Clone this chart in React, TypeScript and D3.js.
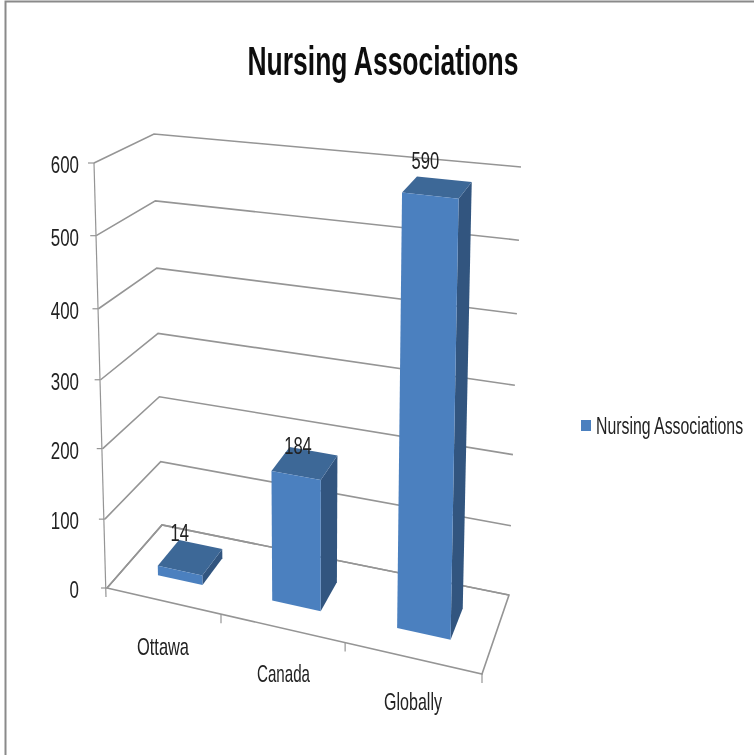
import React from "react";
import * as d3 from "d3";

const categories = ["Ottawa", "Canada", "Globally"];
const seriesName = "Nursing Associations";
const values = [14, 184, 590];
const valueTicks = [0, 100, 200, 300, 400, 500, 600];
const categoryLabelPos = [
  [163, 655],
  [283.5, 682],
  [413, 710],
];
const categoryLabelWidths = [52, 53, 58];
const barLabelShift = [
  [-21, -3],
  [-15.5, 3],
  [-19, -10],
];

const W = 754;
const H = 755;
type P = [number, number];
const floorFL: P = [107, 588];
const floorFR: P = [482, 674];
const floorBR: P = [509, 595];
const floorBL: P = [162, 525];
const topFL: P = [94, 163];
const topFR: P = [492, 209];
const topBR: P = [521, 167];
const topBL: P = [154, 134];

const mix = (a: P, b: P, t: number): P => [a[0] + (b[0] - a[0]) * t, a[1] + (b[1] - a[1]) * t];
const catT = d3.scaleLinear().domain([0, 1, 2, 3]).range([0, 0.304, 0.635, 1]);
const valT = d3.scaleLinear().domain(valueTicks).range([0, 0.162, 0.328, 0.49, 0.657, 0.829, 1]);
const band = d3.scaleBand<string>().domain(categories).range([0, 3]).paddingInner(0.6).paddingOuter(0.3);
const depthFront = 0.32;
const depthBack = 0.725;

function project(c: number, depth: number, value: number): P {
  const t = catT(c);
  const f = mix(mix(floorFL, floorFR, t), mix(floorBL, floorBR, t), depth);
  const u = mix(mix(topFL, topFR, t), mix(topBL, topBR, t), depth);
  return mix(f, u, valT(value));
}
const poly = (pts: P[]) => d3.line()(pts) + "Z";
const FONT = "'Liberation Sans', Arial, sans-serif";
const ctx = document.createElement("canvas").getContext("2d")!;

function T({ x, y, len, size, anchor = "middle", bold = false, children }: any) {
  ctx.font = `${bold ? "bold " : ""}${size}px 'Liberation Sans'`;
  const natural = ctx.measureText(String(children)).width;
  const sx = len / natural;
  return (
    <text transform={`translate(${x},${y}) scale(${sx},1)`} fontFamily={FONT} fontSize={size} fontWeight={bold ? 700 : 400}
      fill={bold ? "#111" : "#222"} textAnchor={anchor}>{children}</text>
  );
}

export default function App() {
  const gridColor = "#959595";
  return (
    <svg width={W} height={H} viewBox={`0 0 ${W} ${H}`} style={{ position: "absolute", left: 0, top: 0, background: "#fff" }}>
      <defs>
        <filter id="soft" x="-5%" y="-5%" width="110%" height="110%">
          <feGaussianBlur stdDeviation="0.7" />
        </filter>
      </defs>
      <g filter="url(#soft)">
        <path d={`M5.5,${H}V1.5H${W}`} fill="none" stroke="#8a8a8a" strokeWidth={2} />
        <T x={383} y={75} len={272} size={40} bold>{seriesName}</T>

        {valueTicks.map((v) => {
          const fl = project(0, 0, v);
          const bl = project(0, 1, v);
          const br = project(3, 1, v);
          return (
            <g key={v}>
              <path d={d3.line()([fl, bl, br])!} fill="none" stroke={gridColor} strokeWidth={1.6} />
              <path d={`M${fl[0] - 6},${fl[1]}H${fl[0]}`} stroke={gridColor} strokeWidth={1.2} />
              <T x={79} y={fl[1] + 10} len={String(v).length * 9.4} size={23} anchor="end">{v}</T>
            </g>
          );
        })}
        <path d={d3.line()([project(0, 0, 600), [floorFL[0] - 1, floorFL[1] + 9]])!} stroke={gridColor} strokeWidth={1.2} fill="none" />
        <path d={poly([floorFL, floorFR, floorBR, floorBL])} fill="none" stroke={gridColor} strokeWidth={1.6} />
        {[1, 2, 3].map((c) => {
          const p = project(c, 0, 0);
          return <path key={c} d={`M${p[0]},${p[1]}v9`} stroke={gridColor} strokeWidth={1.2} />;
        })}

        {categories.map((c, i) => {
          const a = band(c)!;
          const b = a + band.bandwidth();
          const v = values[i];
          const fl0 = project(a, depthFront, 0);
          const fr0 = project(b, depthFront, 0);
          const br0 = project(b, depthBack, 0);
          const fl = project(a, depthFront, v);
          const fr = project(b, depthFront, v);
          const br = project(b, depthBack, v);
          const bl = project(a, depthBack, v);
          const lab = project((a + b) / 2, depthBack, v);
          return (
            <g key={c}>
              <path d={poly([fr0, br0, br, fr])} fill="#31557f" />
              <path d={poly([fl, fr, br, bl])} fill="#3e6797" />
              <path d={poly([fl0, fr0, fr, fl])} fill="#4c80bf" />
              <T x={lab[0] + barLabelShift[i][0]} y={lab[1] + barLabelShift[i][1]} len={String(v).length * 9.2} size={23}>{v}</T>
            </g>
          );
        })}
        {categories.map((c, i) => (
          <T key={c} x={categoryLabelPos[i][0]} y={categoryLabelPos[i][1]} len={categoryLabelWidths[i]} size={24}>{c}</T>
        ))}
        <rect x={581} y={420} width={10} height={11} fill="#4c80bf" />
        <T x={596} y={434} len={148} size={24} anchor="start">{seriesName}</T>
      </g>
    </svg>
  );
}
